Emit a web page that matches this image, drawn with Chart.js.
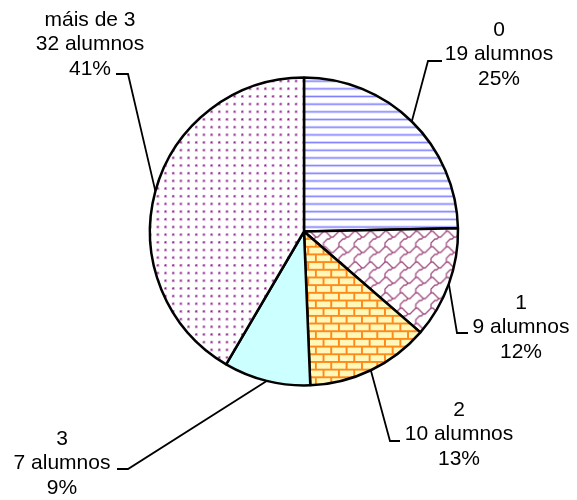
<!DOCTYPE html>
<html>
<head>
<meta charset="utf-8">
<script src="https://cdn.jsdelivr.net/npm/chart.js@4"></script>
<style>
  html, body { margin: 0; padding: 0; background: #fff; }
  canvas { display: block; }
</style>
</head>
<body>
<canvas id="graph" width="577" height="500"></canvas>
<script>
// values
const categories = ['0', '1', '2', '3', 'máis de 3'];
const students = [19, 9, 10, 7, 32];
const percents = [25, 12, 13, 9, 41];

// where each label block sits: text centre, first baseline, elbow of the leader, end of the short tick
const labelPlaces = [
  { tx: 499, ty: 36, ex: 428, ey: 61, hx: 442 },
  { tx: 521, ty: 309, ex: 457, ey: 333, hx: 468 },
  { tx: 459, ty: 416, ex: 390, ey: 441, hx: 400 },
  { tx: 62, ty: 445, ex: 128, ey: 469, hx: 117 },
  { tx: 90, ty: 26, ex: 128, ey: 74, hx: 116 }
];

const ctx = document.getElementById('graph').getContext('2d');

// little tiles for the Excel style fills
function makePattern(w, h, draw) {
  const c = document.createElement('canvas');
  c.width = w;
  c.height = h;
  const g = c.getContext('2d');
  draw(g);
  const p = ctx.createPattern(c, 'repeat');
  if (p.setTransform) p.setTransform(new DOMMatrix().scale(0.96));
  return p;
}

const stripes = makePattern(8, 8, g => {
  g.fillStyle = '#fff';
  g.fillRect(0, 0, 8, 8);
  g.fillStyle = '#8080ff';
  g.fillRect(0, 4, 8, 1);
  g.fillStyle = '#d0d0ff';
  g.fillRect(0, 3, 8, 1);
  g.fillRect(0, 5, 8, 1);
});

// shingle hatch, drawn from the 8x8 bitmap at double size
const shingles = makePattern(16, 16, g => {
  g.fillStyle = '#fff';
  g.fillRect(0, 0, 16, 16);
  g.strokeStyle = '#a04c80';
  g.lineWidth = 1.3;
  const a = [[0, 0], [1, 0], [2, 1], [3, 2], [4, 3], [5, 3], [6, 2], [7, 1], [8, 0]];
  const b = [[4, 3], [3, 4], [2, 4], [1, 5], [0, 6], [0, 7], [0, 8]];
  for (const ox of [-16, 0, 16]) {
    for (const oy of [-16, 0, 16]) {
      for (const pts of [a, b]) {
        g.beginPath();
        pts.forEach(([px, py], k) => {
          const X = px * 2 + 1 + ox, Y = py * 2 + 1 + oy;
          if (k) g.lineTo(X, Y); else g.moveTo(X, Y);
        });
        g.stroke();
      }
    }
  }
});

const bricks = makePattern(16, 16, g => {
  g.fillStyle = '#fff8b8';
  g.fillRect(0, 0, 16, 16);
  g.fillStyle = '#ff8a1c';
  g.fillRect(0, 0, 16, 2);
  g.fillRect(0, 8, 16, 2);
  g.fillRect(0, 0, 2, 8);
  g.fillRect(8, 8, 2, 8);
});

const dots = makePattern(8, 8, g => {
  g.fillStyle = '#fff';
  g.fillRect(0, 0, 8, 8);
  g.fillStyle = '#d4a6d4';
  g.fillRect(3, 3, 3, 3);
  g.fillStyle = '#7a1a7a';
  g.fillRect(4, 4, 1, 1);
  g.fillStyle = '#a656a6';
  g.fillRect(3, 4, 1, 1);
  g.fillRect(4, 3, 1, 1);
});

const fills = [stripes, shingles, bricks, '#ccffff', dots];

const leaderLabels = {
  id: 'leaderLabels',
  afterDraw(chart) {
    const c = chart.ctx;
    const arcs = chart.getDatasetMeta(0).data;
    c.save();
    c.strokeStyle = '#000';
    c.lineWidth = 1.8;
    c.fillStyle = '#000';
    c.font = '21px "Liberation Sans", Arial, sans-serif';
    c.textAlign = 'center';
    c.textBaseline = 'alphabetic';
    arcs.forEach((arc, i) => {
      const { x, y, startAngle, endAngle, outerRadius } = arc.getProps(['x', 'y', 'startAngle', 'endAngle', 'outerRadius'], true);
      const mid = (startAngle + endAngle) / 2;
      const sx = x + Math.cos(mid) * outerRadius;
      const sy = y + Math.sin(mid) * outerRadius;
      const p = labelPlaces[i];
      c.beginPath();
      c.moveTo(sx, sy);
      c.lineTo(p.ex, p.ey);
      c.lineTo(p.hx, p.ey);
      c.stroke();
      const lines = [categories[i], students[i] + ' alumnos', percents[i] + '%'];
      lines.forEach((t, k) => c.fillText(t, p.tx, p.ty + k * 24.3));
    });
    c.restore();
  }
};

new Chart(ctx, {
  type: 'pie',
  data: {
    labels: categories,
    datasets: [{
      data: students,
      backgroundColor: fills,
      borderColor: '#000',
      borderWidth: 2.5,
      radius: 154
    }]
  },
  options: {
    responsive: false,
    animation: false,
    layout: { padding: { left: 100, right: 69, top: 40, bottom: 77 } },
    plugins: {
      legend: { display: false },
      tooltip: { enabled: false }
    }
  },
  plugins: [leaderLabels]
});
</script>
</body>
</html>
